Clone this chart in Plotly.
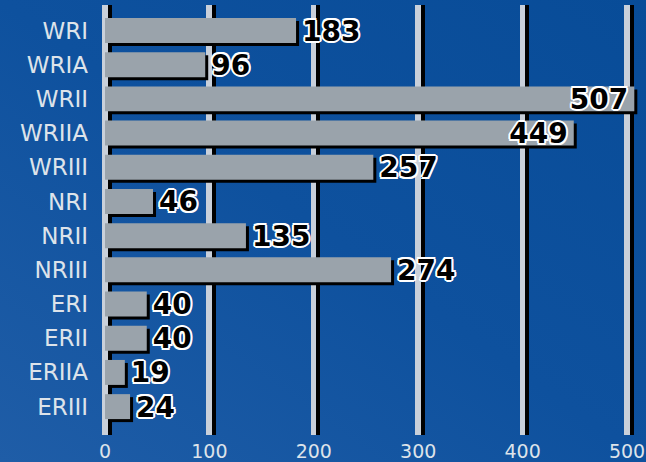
import base64
import plotly.graph_objects as go

categories = ["WRI", "WRIA", "WRII", "WRIIA", "WRIII", "NRI", "NRII", "NRIII",
              "ERI", "ERII", "ERIIA", "ERIII"]
values = [183, 96, 507, 449, 257, 46, 135, 274, 40, 40, 19, 24]
x_ticks = [0, 100, 200, 300, 400, 500]
inside_labels = {"WRII", "WRIIA"}

W, H = 646, 462
ML, MR, MT, MB = 103, 6, 5, 27
pw, ph = W - ML - MR, H - MT - MB
x0px = 105 - ML            # pixel offset of value 0 inside plot
k = 1.044                  # pixels per unit
xmin = -x0px / k
xmax = xmin + pw / k
ymin, ymax = -0.746, 11.83
cat_px = ph / (ymax - ymin)

bar_w = 0.73
sh_dx = 3 / k
sh_dy = 3 / cat_px
grid_dx = 4.5 / k
txt_dy = 3 / cat_px

bar_col = "#9aa3ab"
grid_col = "#c9d0da"
label_col = "#dde3ea"

svg = ('<svg xmlns="http://www.w3.org/2000/svg" width="646" height="462">'
       '<defs><linearGradient id="g" x1="0" y1="1" x2="1" y2="0">'
       '<stop offset="0" stop-color="#1f5da7"/>'
       '<stop offset="0.5" stop-color="#0e519e"/>'
       '<stop offset="1" stop-color="#084c98"/>'
       '</linearGradient></defs>'
       '<rect width="646" height="462" fill="url(#g)"/></svg>')
bg_src = "data:image/svg+xml;base64," + base64.b64encode(svg.encode()).decode()

fig = go.Figure()

# bar shadows
fig.add_trace(go.Bar(
    y=categories, x=values, orientation="h",
    base=[sh_dx] * len(values),
    width=bar_w, offset=-bar_w / 2 + sh_dy,
    marker=dict(color="#000000", line=dict(width=0)),
    hoverinfo="skip", showlegend=False,
))
# main bars
fig.add_trace(go.Bar(
    y=categories, x=values, orientation="h",
    width=bar_w, offset=-bar_w / 2,
    marker=dict(color=bar_col, line=dict(width=0)),
    showlegend=False,
))

outline = ", ".join(f"{dx}px {dy}px 0 #ffffff" for dx, dy in
                    [(2, 0), (-2, 0), (0, 2), (0, -2),
                     (1.5, 1.5), (-1.5, -1.5), (1.5, -1.5), (-1.5, 1.5)])
fig.add_trace(go.Scatter(
    y=categories, x=values, mode="markers+text", yaxis="y2",
    text=[str(v) for v in values],
    textposition=["middle left" if c in inside_labels else "middle right"
                  for c in categories],
    marker=dict(size=8, opacity=0),
    textfont=dict(family="DejaVu Sans", size=28, color="#000000",
                  weight="bold", shadow=outline),
    cliponaxis=False, hoverinfo="skip", showlegend=False,
))

# dummy trace to activate the shadow grid axis
fig.add_trace(go.Scatter(x=[None], y=[None], xaxis="x2", showlegend=False,
                         hoverinfo="skip"))

fig.update_layout(
    width=W, height=H,
    margin=dict(l=ML, r=MR, t=MT, b=MB, pad=0),
    paper_bgcolor="#0e519e",
    plot_bgcolor="rgba(0,0,0,0)",
    barmode="overlay",
    images=[dict(source=bg_src, xref="paper", yref="paper",
                 x=-ML / pw, y=1 + MT / ph, sizex=W / pw, sizey=H / ph,
                 sizing="stretch", layer="below", xanchor="left", yanchor="top")],
    xaxis=dict(range=[xmin, xmax], tickvals=x_ticks, showgrid=True,
               gridcolor=grid_col, gridwidth=5.5, zeroline=False,
               showline=False, ticks="",
               tickfont=dict(family="DejaVu Sans", size=19, color=label_col),
               ticklabelstandoff=3, automargin=False),
    xaxis2=dict(overlaying="x", range=[xmin - grid_dx, xmax - grid_dx],
                tickvals=x_ticks, showgrid=True, gridcolor="#000000",
                gridwidth=3.5, zeroline=False, showline=False,
                showticklabels=False, ticks=""),
    yaxis=dict(type="category", categoryarray=categories,
               range=[ymax, ymin], showgrid=False, zeroline=False,
               showline=False, ticks="",
               tickfont=dict(family="DejaVu Sans", size=23, color=label_col),
               ticklabelstandoff=14, automargin=False),
    yaxis2=dict(type="category", categoryarray=categories, overlaying="y",
                range=[ymax - txt_dy, ymin - txt_dy], showgrid=False,
                zeroline=False, showline=False, showticklabels=False,
                ticks=""),
)

fig.write_html(
    "out.html",
    config={"displayModeBar": False},
    post_script="document.body.style.margin='0';document.body.style.overflow='hidden';",
)
